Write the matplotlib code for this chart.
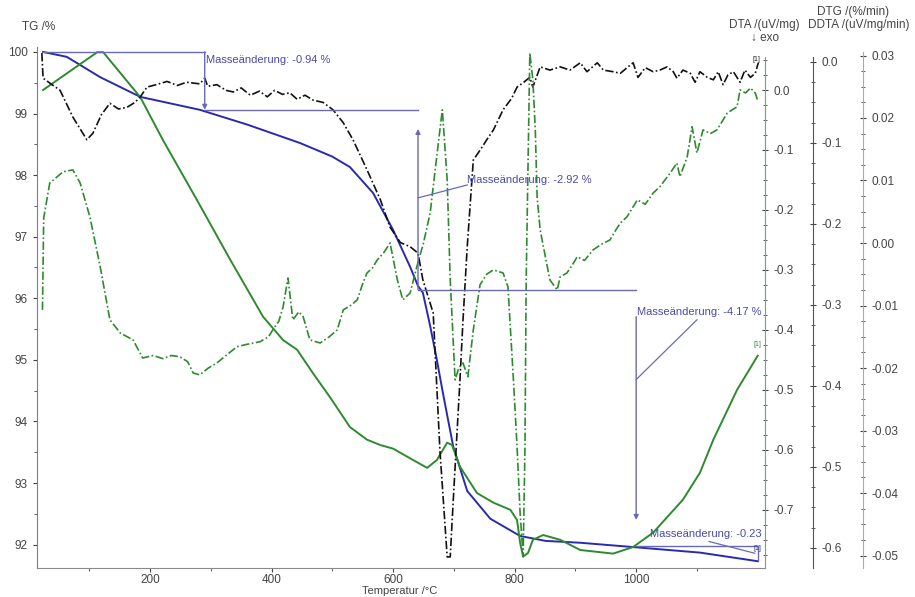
import matplotlib
matplotlib.use('Agg')
import matplotlib.pyplot as plt
from matplotlib.ticker import MultipleLocator, FuncFormatter, FixedLocator

plt.rcParams['font.family'] = ['Liberation Sans', 'DejaVu Sans']
plt.rcParams['axes.unicode_minus'] = False

# ---------------- data ----------------
tg_T = [24, 63, 118, 184, 282, 360, 447, 500, 529, 567, 600, 628, 641, 649, 661, 672, 682,
        699, 722, 760, 809, 851, 908, 995, 1105, 1200]
tg_v = [100.0, 99.92, 99.59, 99.27, 99.06, 98.82, 98.52, 98.30, 98.13, 97.71, 97.11, 96.51,
        96.20, 96.09, 95.55, 95.0, 94.46, 93.59, 92.87, 92.42, 92.14, 92.06, 92.03, 91.96,
        91.87, 91.73]

dta_T = [24, 113, 123, 184, 221, 277, 332, 386, 419, 442, 468, 496, 529, 557, 579, 600, 633,
         656, 672, 689, 697, 710, 738, 765, 793, 804, 809, 814, 822, 830, 847, 875, 908, 962,
         995, 1028, 1077, 1105, 1127, 1166, 1200]
dta_v = [0.000, 0.063, 0.063, -0.012, -0.083, -0.183, -0.283, -0.378, -0.417, -0.433, -0.472,
         -0.512, -0.562, -0.583, -0.592, -0.598, -0.617, -0.630, -0.617, -0.588, -0.592, -0.628,
         -0.672, -0.688, -0.700, -0.717, -0.755, -0.778, -0.772, -0.750, -0.742, -0.750, -0.767,
         -0.773, -0.762, -0.738, -0.683, -0.638, -0.583, -0.500, -0.443]

dtg_T = [22, 24, 35, 52, 73, 96, 106, 120, 134, 148, 162, 175, 184, 195, 210, 228, 245, 260,
         282, 290, 295, 310, 325, 337, 350, 365, 380, 393, 405, 418, 430, 442, 455, 468, 485,
         501, 518, 534, 557, 579, 595, 612, 628, 641, 649, 666, 677, 689, 694, 699, 710, 715,
         722, 732, 743, 755, 765, 781, 795, 804, 815, 825, 830, 842, 858, 875, 891, 908, 919,
         936, 946, 962, 974, 985, 995, 1003, 1015, 1028, 1039, 1051, 1061, 1067, 1077, 1089,
         1097, 1105, 1117, 1127, 1135, 1143, 1151, 1160, 1171, 1179, 1188, 1196, 1201]
dtg_v = [0.011, -0.020, -0.026, -0.035, -0.068, -0.096, -0.088, -0.065, -0.051, -0.058, -0.056,
         -0.050, -0.043, -0.031, -0.028, -0.024, -0.029, -0.025, -0.027, -0.020, -0.030, -0.028,
         -0.035, -0.037, -0.032, -0.041, -0.036, -0.043, -0.035, -0.040, -0.038, -0.046, -0.041,
         -0.047, -0.050, -0.059, -0.075, -0.096, -0.133, -0.170, -0.204, -0.223, -0.228, -0.236,
         -0.269, -0.310, -0.479, -0.611, -0.611, -0.541, -0.393, -0.319, -0.228, -0.121, -0.109,
         -0.095, -0.084, -0.059, -0.045, -0.031, -0.025, -0.019, -0.031, -0.006, -0.010, -0.006,
         -0.010, -0.001, -0.012, -0.001, -0.010, -0.012, -0.014, -0.007, -0.001, -0.019, -0.007,
         -0.012, -0.010, -0.006, -0.012, -0.020, -0.010, -0.014, -0.025, -0.012, -0.019, -0.022,
         -0.012, -0.028, -0.016, -0.012, -0.025, -0.010, -0.019, -0.014, -0.001]

ddta_T = [23, 25, 35, 57, 73, 85, 101, 118, 134, 151, 172, 188, 205, 221, 235, 249, 262, 271,
          282, 296, 310, 325, 343, 360, 381, 395, 402, 412, 419, 427, 435, 445, 452, 463, 480,
          495, 508, 518, 530, 541, 550, 557, 566, 574, 585, 595, 607, 616, 628, 639, 650, 661,
          672, 681, 689, 694, 702, 708, 715, 723, 732, 743, 754, 765, 781, 789, 798, 804, 809,
          814, 817, 819, 825, 830, 834, 837, 842, 858, 870, 875, 886, 895, 903, 915, 929, 943,
          957, 966, 974, 985, 1002, 1015, 1028, 1039, 1056, 1067, 1072, 1084, 1092, 1100, 1110,
          1122, 1133, 1150, 1166, 1171, 1180, 1188, 1196, 1200]
ddta_v = [-0.0107, 0.0040, 0.0096, 0.0114, 0.0117, 0.0096, 0.0042, -0.0038, -0.0123, -0.0144,
          -0.0155, -0.0184, -0.0180, -0.0185, -0.0180, -0.0182, -0.0190, -0.0208, -0.0211,
          -0.0200, -0.0192, -0.0180, -0.0166, -0.0162, -0.0158, -0.0150, -0.0139, -0.0125,
          -0.0102, -0.0056, -0.0123, -0.0110, -0.0118, -0.0155, -0.0160, -0.0150, -0.0139,
          -0.0107, -0.0100, -0.0091, -0.0065, -0.0048, -0.0040, -0.0027, -0.0015, 0.0000,
          -0.0059, -0.0091, -0.0080, -0.0038, 0.0000, 0.0048, 0.0140, 0.0213, 0.0101, -0.0059,
          -0.0219, -0.0200, -0.0192, -0.0214, -0.0139, -0.0067, -0.0050, -0.0043, -0.0048,
          -0.0070, -0.0219, -0.0326, -0.0432, -0.0502, -0.0326, -0.0059, 0.0304, 0.0261, 0.0181,
          0.0074, 0.0021, -0.0059, -0.0075, -0.0054, -0.0048, -0.0035, -0.0022, -0.0028, -0.0011,
          -0.0002, 0.0005, 0.0020, 0.0032, 0.0042, 0.0069, 0.0062, 0.0080, 0.0090, 0.0112,
          0.0128, 0.0106, 0.0138, 0.0186, 0.0144, 0.0181, 0.0175, 0.0181, 0.0208, 0.0218,
          0.0245, 0.0240, 0.0248, 0.0240, 0.0228]

# mass-change annotation steps (TG levels and temperatures)
step_T = [24, 290, 641, 1000, 1204]
step_TG = [100.0, 99.06, 96.14, 91.97, 91.74]
step_labels = ["Masseänderung: -0.94 %", "Masseänderung: -2.92 %",
               "Masseänderung: -4.17 %", "Masseänderung: -0.23 %"]

# ---------------- figure ----------------
W, H = 915, 597
fig = plt.figure(figsize=(W / 100, H / 100), dpi=100)
L, R, T_, B = 37, 765, 47, 568
ax = fig.add_axes([L / W, 1 - B / H, (R - L) / W, (B - T_) / H])

tick_col = '#444444'
ann_col = '#6a6ab4'
txt_col = '#4a4aa8'
blue = '#2a2ab0'
green = '#2f8a2f'


def fmt(nd):
    def f(v, pos):
        s = f'{v:.{nd}f}'
        if s.startswith('-') and float(s) == 0:
            s = s[1:]
        return s
    return FuncFormatter(f)


ax.set_xlim(14, 1212)
ax.set_ylim(91.62, 100.08)
for s in ['top', 'right']:
    ax.spines[s].set_visible(False)
ax.spines['left'].set_color('#7a7aa8')
ax.spines['bottom'].set_color('#8a8a8a')
ax.xaxis.set_major_locator(FixedLocator([200, 400, 600, 800, 1000]))
ax.xaxis.set_minor_locator(FixedLocator([100, 300, 500, 700, 900, 1100]))
ax.yaxis.set_major_locator(MultipleLocator(1))
ax.yaxis.set_minor_locator(MultipleLocator(0.5))
ax.tick_params(axis='both', which='both', labelsize=8.5, colors=tick_col, direction='out')
ax.tick_params(axis='x', pad=1.5)
ax.tick_params(which='major', length=3)
ax.tick_params(which='minor', length=2)

ax.plot(tg_T, tg_v, color=blue, lw=1.4, zorder=5)

# DTA axis
ax2 = ax.twinx()
ax2.set_ylim(-0.797, 0.0717)
for s in ['top', 'left', 'bottom']:
    ax2.spines[s].set_visible(False)
ax2.spines['right'].set_color('#66b066')
ax2.spines['right'].set_bounds(-0.797, 0.055)
ax2.yaxis.set_major_locator(MultipleLocator(0.1))
ax2.yaxis.set_minor_locator(MultipleLocator(0.025))
ax2.yaxis.set_major_formatter(fmt(1))
ax2.tick_params(axis='y', which='both', labelsize=8.5, colors=tick_col, direction='inout')
ax2.tick_params(which='major', length=5)
ax2.tick_params(which='minor', length=3)
ax2.plot(dta_T, dta_v, color=green, lw=1.4)

# DTG axis
ax3 = ax.twinx()
ax3.set_ylim(-0.6247, 0.0185)
for s in ['top', 'left', 'bottom']:
    ax3.spines[s].set_visible(False)
ax3.spines['right'].set_position(('axes', 1 + 48 / (R - L)))
ax3.spines['right'].set_color('#555555')
ax3.spines['right'].set_bounds(-0.6247, 0.006)
ax3.yaxis.set_major_locator(MultipleLocator(0.1))
ax3.yaxis.set_minor_locator(MultipleLocator(0.025))
ax3.yaxis.set_major_formatter(fmt(1))
ax3.tick_params(axis='y', which='both', labelsize=8.5, colors=tick_col, direction='inout')
ax3.tick_params(which='major', length=5)
ax3.tick_params(which='minor', length=3)
ax3.plot(dtg_T, dtg_v, color='#111111', lw=1.2, linestyle=(0, (5, 1.5, 1, 1.5)))

# DDTA axis
ax4 = ax.twinx()
ax4.set_ylim(-0.0520, 0.03136)
for s in ['top', 'left', 'bottom']:
    ax4.spines[s].set_visible(False)
ax4.spines['right'].set_position(('axes', 1 + 98 / (R - L)))
ax4.spines['right'].set_color('#88c488')
ax4.spines['right'].set_bounds(-0.0520, 0.0305)
ax4.yaxis.set_major_locator(MultipleLocator(0.01))
ax4.yaxis.set_minor_locator(MultipleLocator(0.0025))
ax4.yaxis.set_major_formatter(fmt(2))
ax4.tick_params(axis='y', which='both', labelsize=8.5, colors=tick_col, direction='inout')
ax4.tick_params(which='major', length=5)
ax4.tick_params(which='minor', length=3)
ax4.plot(ddta_T, ddta_v, color=green, lw=1.2, linestyle=(0, (5, 1.5, 1, 1.5)))

# ---------------- mass change annotations (in TG coordinates) ----------------
tr = ax.transData


def hline(t0, t1, y):
    ax4.plot([t0, t1], [y, y], color=ann_col, lw=1, transform=tr, clip_on=False)


def arrow(t, y0, y1):
    ax4.annotate('', xy=(t, y1), xytext=(t, y0), xycoords=tr, textcoords=tr,
                 arrowprops=dict(arrowstyle='-|>', color=ann_col, lw=1, mutation_scale=7,
                                 shrinkA=0, shrinkB=0))


def seg(p0, p1):
    ax4.plot([p0[0], p1[0]], [p0[1], p1[1]], color=ann_col, lw=0.9, transform=tr)


# step 1
hline(step_T[0], step_T[1], step_TG[0])
hline(step_T[1], step_T[2], step_TG[1])
arrow(step_T[1], step_TG[0], step_TG[1])
ax4.text(step_T[1] + 2, 99.87, step_labels[0], transform=tr, fontsize=8, color=txt_col,
         va='center', ha='left')
# step 2
hline(step_T[2], step_T[3], step_TG[2])
arrow(step_T[2], step_TG[2], 98.75)
seg((step_T[2], 97.63), (722, 97.84))
ax4.text(722, 97.92, step_labels[1], transform=tr, fontsize=8, color=txt_col,
         va='center', ha='left')
# step 3
arrow(step_T[3], 95.70, 92.40)
seg((step_T[3], 94.68), (1100, 95.65))
ax4.text(step_T[3] + 1, 95.77, step_labels[2], transform=tr, fontsize=8, color=txt_col,
         va='center', ha='left')
# step 4
hline(step_T[3], step_T[4] - 4, step_TG[3])
seg((1120, 92.05), (1195, 91.86))
ax4.plot([1200, 1200], [step_TG[3], step_TG[4]], color=ann_col, lw=1, transform=tr)
ax4.text(1022, 92.17, step_labels[3], transform=tr, fontsize=8, color=txt_col,
         va='center', ha='left', clip_on=True)

# [1] markers
ax4.text(1198, 99.87, '[1]', transform=tr, fontsize=5, color='#222222', ha='center', va='center')
ax4.text(1200, 95.2, '[1]', transform=tr, fontsize=5, color=green, ha='center', va='bottom')
ax4.text(1200, 91.88, '[1]', transform=tr, fontsize=5, color=blue, ha='center', va='bottom')

# ---------------- axis titles ----------------
def ftxt(x, y, s, ha='center', fs=8.5):
    fig.text(x / W, 1 - y / H, s, ha=ha, va='center', fontsize=fs, color=tick_col)


ftxt(22, 27, 'TG /%', ha='left')
ftxt(853, 12, 'DTG /(%/min)')
ftxt(764, 25, 'DTA /(uV/mg)')
ftxt(765, 38, '↓ exo')
ftxt(859, 25, 'DDTA /(uV/mg/min)')
ftxt(400, 591, 'Temperatur /°C', fs=8)

fig.savefig('out.png', dpi=100)
